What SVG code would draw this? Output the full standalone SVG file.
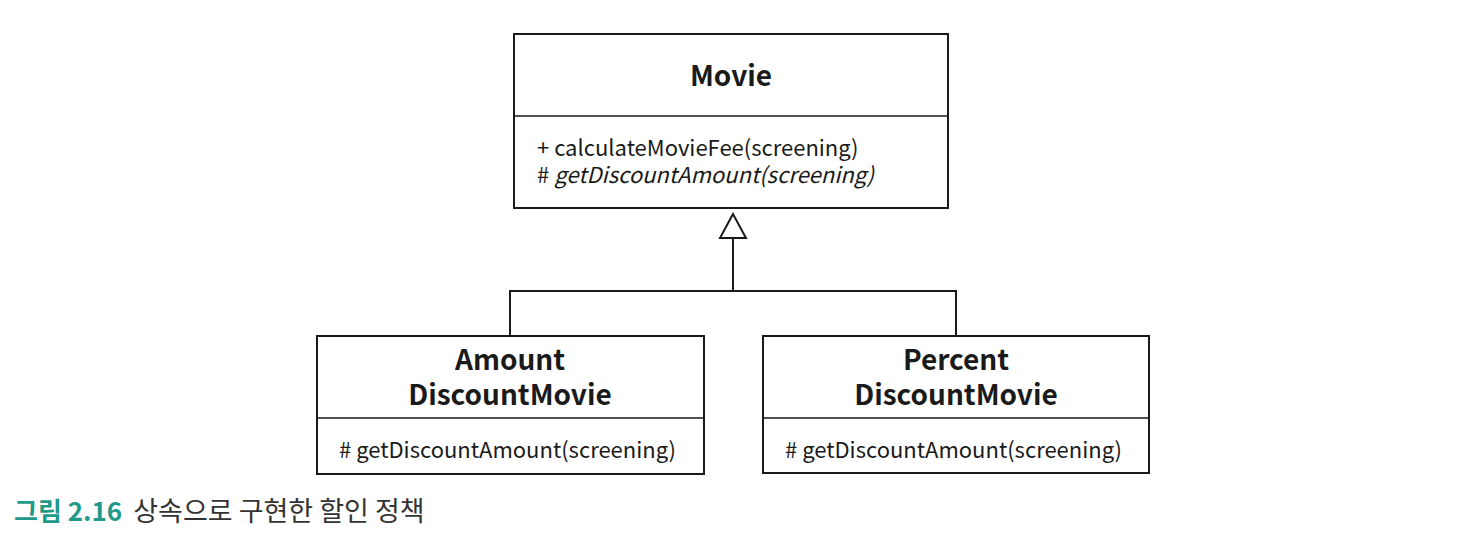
<svg xmlns="http://www.w3.org/2000/svg" width="1478" height="548" viewBox="0 0 1478 548">
<style>
.box{fill:#fff;stroke:#1a1a1a;stroke-width:2}
.div{stroke:#1a1a1a;stroke-width:1.5}
.t{font-family:"Noto Sans CJK KR","Noto Sans",sans-serif;font-weight:bold;font-size:28px;fill:#1a1a1a;text-anchor:middle}
.m{font-family:"Noto Sans CJK KR","Noto Sans",sans-serif;font-size:22px;fill:#1a1a1a}
.conn{fill:none;stroke:#1a1a1a;stroke-width:2}
.cap{font-family:"Noto Sans CJK KR",sans-serif;font-size:26px}
</style>
<rect width="1478" height="548" fill="#fff"/>
<g id="movie">
<rect class="box" x="514" y="34" width="434" height="174"/>
<line class="div" x1="514" y1="116" x2="948" y2="116"/>
<text class="t" x="731" y="86">Movie</text>
<text class="m" x="537" y="156">+ calculateMovieFee(screening)</text>
<text class="m" x="537" y="183"># <tspan font-style="italic">getDiscountAmount(screening)</tspan></text>
</g>
<g id="amount">
<rect class="box" x="317" y="336" width="387" height="138"/>
<line class="div" x1="317" y1="418" x2="704" y2="418"/>
<text class="t" x="510" y="370">Amount<tspan x="510" dy="35">DiscountMovie</tspan></text>
<text class="m" x="339" y="458"># getDiscountAmount(screening)</text>
</g>
<g id="percent">
<rect class="box" x="763" y="336" width="386" height="137"/>
<line class="div" x1="763" y1="418" x2="1149" y2="418"/>
<text class="t" x="956" y="370">Percent<tspan x="956" dy="35">DiscountMovie</tspan></text>
<text class="m" x="785" y="458"># getDiscountAmount(screening)</text>
</g>
<g id="connectors">
<polyline class="conn" points="510,336 510,291 956,291 956,336"/>
<line class="conn" x1="733" y1="291" x2="733" y2="238"/>
<polygon points="733,214 720,238 746,238" fill="#fff" stroke="#1a1a1a" stroke-width="2"/>
</g>
<text class="cap" x="14" y="521"><tspan fill="#1f9a8a" font-weight="bold">그림 2.16</tspan><tspan fill="#333" font-size="27px" dx="11">상속으로 구현한 할인 정책</tspan></text>
</svg>
